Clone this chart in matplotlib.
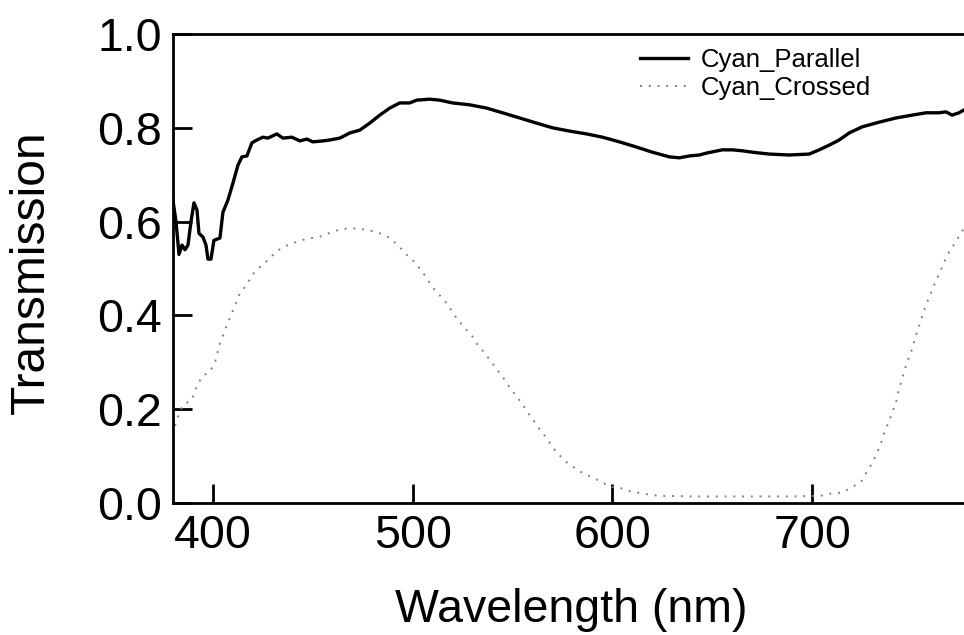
import matplotlib
matplotlib.use("Agg")
import matplotlib.pyplot as plt

plt.rcParams["font.family"] = ["Liberation Sans", "DejaVu Sans"]

# Cyan_Parallel transmission
par_wl = [380, 381.5, 383, 384.5, 386, 387.5, 389, 390.5, 392, 393, 395, 396.5,
          397.5, 399, 400.5, 403.5, 405, 407.5, 410, 412.5, 414.5, 417, 419.5,
          422, 425, 427.5, 432, 435, 439.5, 443.5, 447, 450, 455, 458.5, 463.5,
          468.5, 473.5, 478.5, 483.5, 488.5, 493.5, 498.5, 502, 508.5, 513.5,
          520, 528.5, 537, 545, 553.5, 562, 570, 578.5, 587, 595, 603.5, 612,
          620, 628.5, 633.5, 638.5, 643.5, 647, 655, 660, 665, 670, 678.5,
          688.5, 698.5, 703.5, 708.5, 713.5, 718.5, 725, 733.5, 742, 750, 757,
          763.5, 767, 770, 773.5, 776]
par_t = [0.645, 0.60, 0.53, 0.55, 0.54, 0.55, 0.60, 0.64, 0.625, 0.575, 0.567,
         0.55, 0.52, 0.52, 0.56, 0.565, 0.62, 0.646, 0.682, 0.72, 0.738, 0.740,
         0.768, 0.774, 0.780, 0.778, 0.787, 0.778, 0.780, 0.772, 0.776, 0.770,
         0.772, 0.774, 0.778, 0.789, 0.795, 0.810, 0.827, 0.842, 0.853, 0.853,
         0.859, 0.861, 0.859, 0.853, 0.849, 0.842, 0.832, 0.821, 0.810, 0.800,
         0.793, 0.787, 0.780, 0.770, 0.759, 0.748, 0.738, 0.736, 0.740, 0.742,
         0.746, 0.753, 0.753, 0.751, 0.748, 0.744, 0.742, 0.744, 0.753, 0.763,
         0.774, 0.789, 0.802, 0.812, 0.821, 0.827, 0.832, 0.832, 0.834, 0.827,
         0.832, 0.838]

# Cyan_Crossed transmission
crs_wl = [381, 383, 385, 389.5, 391, 394.5, 398.5, 401, 403.5, 407, 409.5,
          413.5, 417, 419.5, 423.5, 427.5, 431, 435, 440, 445, 449.5, 454.5,
          459.5, 464.5, 469.5, 474.5, 479.5, 484.5, 488.5, 492.5, 497, 500,
          503.5, 507, 510, 513.5, 517, 522, 526, 529.5, 532.5, 536, 539.5, 545,
          548.5, 554.5, 557.5, 561, 564.5, 567, 570, 573.5, 577, 581, 585, 590,
          595, 600, 605, 609.5, 614.5, 619.5, 625, 630, 640, 650, 660, 670,
          680, 690, 700, 705.5, 710, 715, 720, 724.5, 727, 730, 732, 734.5,
          736, 738, 740, 742, 743, 744.5, 746, 747.5, 749.5, 751, 752.5, 754.5,
          756, 758, 760, 762, 764.5, 766.5, 768.5, 771.5, 774.5, 776]
crs_t = [0.165, 0.19, 0.209, 0.22, 0.24, 0.27, 0.28, 0.30, 0.34, 0.38, 0.405,
         0.448, 0.465, 0.486, 0.503, 0.518, 0.533, 0.546, 0.554, 0.561, 0.565,
         0.569, 0.578, 0.584, 0.586, 0.584, 0.58, 0.574, 0.565, 0.55, 0.529,
         0.518, 0.50, 0.48, 0.46, 0.443, 0.426, 0.394, 0.373, 0.358, 0.337,
         0.32, 0.30, 0.269, 0.247, 0.213, 0.194, 0.173, 0.151, 0.139, 0.119,
         0.102, 0.087, 0.075, 0.064, 0.055, 0.043, 0.034, 0.031, 0.024, 0.021,
         0.017, 0.015, 0.015, 0.014, 0.014, 0.014, 0.014, 0.014, 0.014, 0.015,
         0.016, 0.021, 0.022, 0.034, 0.045, 0.064, 0.085, 0.102, 0.128, 0.149,
         0.17, 0.192, 0.215, 0.235, 0.258, 0.279, 0.30, 0.322, 0.343, 0.365,
         0.39, 0.411, 0.433, 0.454, 0.475, 0.497, 0.518, 0.535, 0.554, 0.576,
         0.585]

x_ticks = [400, 500, 600, 700]
y_ticks = [0.0, 0.2, 0.4, 0.6, 0.8, 1.0]

W, H = 964, 635
fig = plt.figure(figsize=(W / 100, H / 100), dpi=100)
ax = fig.add_axes([173 / W, 132 / H, (W - 173) / W, (503 - 34) / H])

ax.plot(par_wl, par_t, color="black", lw=2.4, label="Cyan_Parallel")
ax.plot(crs_wl, crs_t, color="#808080", lw=1.4, linestyle=(0, (1, 3.5)),
        label="Cyan_Crossed")

ax.set_xlim(380, 776)
ax.set_ylim(0, 1.0)
ax.set_xticks(x_ticks)
ax.set_yticks(y_ticks)
ax.set_yticklabels([f"{v:.1f}" for v in y_ticks])
ax.tick_params(direction="in", length=14, width=2, labelsize=33.5, pad=8)
ax.spines["right"].set_visible(False)
for s in ["left", "top", "bottom"]:
    ax.spines[s].set_linewidth(2)

fig.text(571.5 / W, (H - 622) / H, "Wavelength (nm)", fontsize=33.5,
         ha="center", va="baseline")
fig.text(31 / W, (H - 272) / H, "Transmission", fontsize=34.5,
         rotation=90, ha="center", va="center")

ax.legend(loc="upper left", bbox_to_anchor=(640 / W, 1 - 48 / H),
          bbox_transform=fig.transFigure, frameon=False, fontsize=18.5,
          handlelength=1.85, handletextpad=0.5, labelspacing=0.15,
          borderpad=0, borderaxespad=0)

fig.savefig("out.png", dpi=100)
